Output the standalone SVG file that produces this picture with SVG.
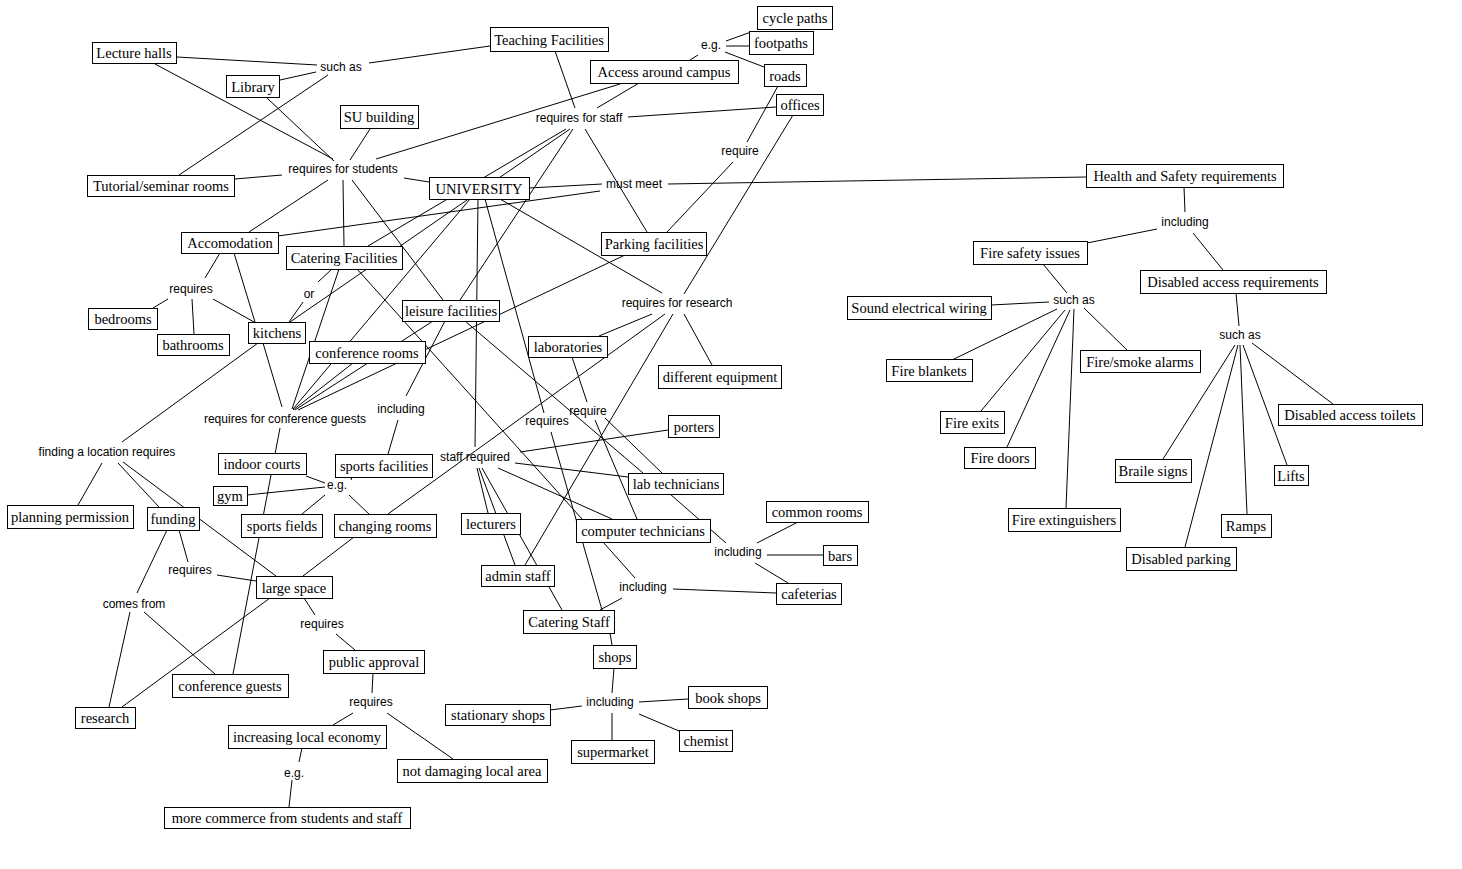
<svg xmlns="http://www.w3.org/2000/svg" width="1462" height="869" viewBox="0 0 1462 869">
<style>
.c line{stroke:#000;stroke-width:1;fill:none}
.n rect{fill:#fff;stroke:#000;stroke-width:1}
.n text{font-family:"Liberation Serif","Times New Roman",serif;font-size:14.5px;fill:#000;text-anchor:middle}
.l text{font-family:"Liberation Sans",Arial,sans-serif;font-size:12px;fill:#000;text-anchor:middle}
</style>
<rect x="0" y="0" width="1462" height="869" fill="#fff"/>
<g id="connectors" class="c">
<line x1="177" y1="57" x2="317" y2="65"/>
<line x1="280" y1="80" x2="316" y2="72"/>
<line x1="328" y1="75" x2="179" y2="175"/>
<line x1="369" y1="63" x2="490" y2="46"/>
<line x1="155" y1="64" x2="333" y2="159"/>
<line x1="267" y1="98" x2="334" y2="161"/>
<line x1="370" y1="129" x2="350" y2="160"/>
<line x1="282" y1="175" x2="235" y2="179"/>
<line x1="404" y1="178" x2="429" y2="182"/>
<line x1="620" y1="84" x2="376" y2="159"/>
<line x1="328" y1="180" x2="249" y2="232"/>
<line x1="343" y1="180" x2="344" y2="246"/>
<line x1="352" y1="180" x2="443" y2="300"/>
<line x1="726" y1="41" x2="751" y2="32"/>
<line x1="726" y1="46" x2="749" y2="46"/>
<line x1="725" y1="52" x2="764" y2="67"/>
<line x1="698" y1="55" x2="690" y2="60"/>
<line x1="555" y1="51" x2="575" y2="108"/>
<line x1="639" y1="83" x2="597" y2="108"/>
<line x1="628" y1="117" x2="776" y2="107"/>
<line x1="778" y1="86" x2="747" y2="142"/>
<line x1="733" y1="162" x2="667" y2="232"/>
<line x1="793" y1="115" x2="684" y2="294"/>
<line x1="585" y1="129" x2="647" y2="232"/>
<line x1="566" y1="129" x2="368" y2="246"/>
<line x1="570" y1="129" x2="290" y2="322"/>
<line x1="573" y1="129" x2="460" y2="300"/>
<line x1="529" y1="188" x2="602" y2="184"/>
<line x1="668" y1="184" x2="1086" y2="177"/>
<line x1="600" y1="191" x2="278" y2="236"/>
<line x1="470" y1="199" x2="293" y2="409"/>
<line x1="478" y1="199" x2="475" y2="447"/>
<line x1="485" y1="199" x2="544" y2="413"/>
<line x1="500" y1="199" x2="662" y2="293"/>
<line x1="220" y1="253" x2="205" y2="278"/>
<line x1="168" y1="299" x2="153" y2="308"/>
<line x1="192" y1="299" x2="194" y2="334"/>
<line x1="213" y1="299" x2="254" y2="322"/>
<line x1="234" y1="253" x2="255" y2="322"/>
<line x1="332" y1="269" x2="318" y2="282"/>
<line x1="303" y1="302" x2="289" y2="322"/>
<line x1="258" y1="343" x2="122" y2="442"/>
<line x1="263" y1="343" x2="282" y2="407"/>
<line x1="339" y1="269" x2="292" y2="409"/>
<line x1="357" y1="269" x2="582" y2="519"/>
<line x1="353" y1="363" x2="293" y2="410"/>
<line x1="433" y1="321" x2="295" y2="410"/>
<line x1="625" y1="255" x2="298" y2="410"/>
<line x1="280" y1="428" x2="233" y2="674"/>
<line x1="445" y1="321" x2="406" y2="396"/>
<line x1="398" y1="420" x2="388" y2="454"/>
<line x1="465" y1="321" x2="643" y2="473"/>
<line x1="652" y1="314" x2="599" y2="336"/>
<line x1="684" y1="314" x2="712" y2="365"/>
<line x1="665" y1="314" x2="388" y2="514"/>
<line x1="673" y1="314" x2="525" y2="565"/>
<line x1="572" y1="357" x2="587" y2="402"/>
<line x1="595" y1="420" x2="637" y2="519"/>
<line x1="605" y1="418" x2="662" y2="473"/>
<line x1="551" y1="432" x2="602" y2="610"/>
<line x1="520" y1="452" x2="668" y2="430"/>
<line x1="515" y1="463" x2="628" y2="477"/>
<line x1="498" y1="468" x2="612" y2="519"/>
<line x1="477" y1="468" x2="488" y2="513"/>
<line x1="479" y1="468" x2="515" y2="565"/>
<line x1="482" y1="468" x2="562" y2="610"/>
<line x1="670" y1="494" x2="726" y2="543"/>
<line x1="757" y1="543" x2="798" y2="522"/>
<line x1="767" y1="555" x2="823" y2="555"/>
<line x1="755" y1="563" x2="788" y2="583"/>
<line x1="603" y1="542" x2="635" y2="578"/>
<line x1="673" y1="589" x2="776" y2="593"/>
<line x1="622" y1="598" x2="600" y2="610"/>
<line x1="610" y1="633" x2="612" y2="645"/>
<line x1="614" y1="668" x2="612" y2="693"/>
<line x1="582" y1="706" x2="550" y2="710"/>
<line x1="639" y1="702" x2="688" y2="699"/>
<line x1="612" y1="713" x2="612" y2="740"/>
<line x1="639" y1="714" x2="679" y2="731"/>
<line x1="102" y1="463" x2="78" y2="505"/>
<line x1="118" y1="463" x2="159" y2="507"/>
<line x1="123" y1="462" x2="276" y2="576"/>
<line x1="179" y1="530" x2="188" y2="562"/>
<line x1="217" y1="575" x2="256" y2="581"/>
<line x1="167" y1="530" x2="137" y2="593"/>
<line x1="130" y1="612" x2="109" y2="707"/>
<line x1="144" y1="612" x2="215" y2="674"/>
<line x1="306" y1="476" x2="325" y2="483"/>
<line x1="325" y1="487" x2="247" y2="495"/>
<line x1="325" y1="495" x2="302" y2="514"/>
<line x1="349" y1="495" x2="369" y2="514"/>
<line x1="352" y1="477" x2="351" y2="480"/>
<line x1="354" y1="537" x2="303" y2="576"/>
<line x1="270" y1="598" x2="122" y2="707"/>
<line x1="304" y1="598" x2="315" y2="615"/>
<line x1="336" y1="634" x2="355" y2="650"/>
<line x1="373" y1="673" x2="372" y2="693"/>
<line x1="353" y1="713" x2="333" y2="725"/>
<line x1="387" y1="713" x2="453" y2="759"/>
<line x1="302" y1="748" x2="299" y2="762"/>
<line x1="292" y1="780" x2="289" y2="807"/>
<line x1="1184" y1="187" x2="1185" y2="212"/>
<line x1="1157" y1="229" x2="1087" y2="243"/>
<line x1="1193" y1="233" x2="1223" y2="270"/>
<line x1="1043" y1="264" x2="1067" y2="293"/>
<line x1="1049" y1="302" x2="991" y2="305"/>
<line x1="1057" y1="309" x2="954" y2="359"/>
<line x1="1065" y1="310" x2="981" y2="411"/>
<line x1="1070" y1="310" x2="1007" y2="447"/>
<line x1="1074" y1="309" x2="1066" y2="508"/>
<line x1="1084" y1="308" x2="1127" y2="350"/>
<line x1="1236" y1="293" x2="1239" y2="326"/>
<line x1="1235" y1="345" x2="1163" y2="459"/>
<line x1="1238" y1="345" x2="1185" y2="547"/>
<line x1="1240" y1="345" x2="1247" y2="514"/>
<line x1="1243" y1="345" x2="1287" y2="465"/>
<line x1="1252" y1="343" x2="1333" y2="404"/>
</g>
<g id="nodes" class="n">
<g id="n-lecture-halls"><rect x="92.5" y="42.5" width="84" height="21"/><text x="134" y="58">Lecture halls</text></g>
<g id="n-library"><rect x="226.5" y="75.5" width="53" height="22"/><text x="253" y="91.5">Library</text></g>
<g id="n-su-building"><rect x="340.5" y="105.5" width="78" height="23"/><text x="379" y="122">SU building</text></g>
<g id="n-tutorial"><rect x="87.5" y="175.5" width="147" height="21"/><text x="161" y="191">Tutorial/seminar rooms</text></g>
<g id="n-teaching"><rect x="490.5" y="27.5" width="118" height="24"/><text x="549" y="44.5">Teaching Facilities</text></g>
<g id="n-access"><rect x="590.5" y="60.5" width="148" height="23"/><text x="664" y="77">Access around campus</text></g>
<g id="n-cycle"><rect x="757.5" y="6.5" width="75" height="23"/><text x="795" y="23">cycle paths</text></g>
<g id="n-footpaths"><rect x="749.5" y="31.5" width="64" height="23"/><text x="781" y="48">footpaths</text></g>
<g id="n-roads"><rect x="764.5" y="64.5" width="42" height="22"/><text x="785" y="80.5">roads</text></g>
<g id="n-offices"><rect x="776.5" y="94.5" width="47" height="21"/><text x="800" y="110">offices</text></g>
<g id="n-university"><rect x="429.5" y="177.5" width="100" height="22"/><text x="479" y="193.5">UNIVERSITY</text></g>
<g id="n-accomodation"><rect x="181.5" y="232.5" width="97" height="21"/><text x="230" y="248">Accomodation</text></g>
<g id="n-catering-facilities"><rect x="286.5" y="246.5" width="116" height="23"/><text x="344" y="263">Catering Facilities</text></g>
<g id="n-bedrooms"><rect x="88.5" y="308.5" width="69" height="21"/><text x="123" y="324">bedrooms</text></g>
<g id="n-bathrooms"><rect x="157.5" y="334.5" width="72" height="21"/><text x="193" y="350">bathrooms</text></g>
<g id="n-kitchens"><rect x="248.5" y="322.5" width="57" height="21"/><text x="277" y="338">kitchens</text></g>
<g id="n-conference-rooms"><rect x="309.5" y="341.5" width="116" height="22"/><text x="367" y="357.5">conference rooms</text></g>
<g id="n-leisure"><rect x="402.5" y="300.5" width="97" height="21"/><text x="451" y="316">leisure facilities</text></g>
<g id="n-parking"><rect x="601.5" y="232.5" width="105" height="23"/><text x="654" y="249">Parking facilities</text></g>
<g id="n-laboratories"><rect x="528.5" y="336.5" width="79" height="21"/><text x="568" y="352">laboratories</text></g>
<g id="n-different-equipment"><rect x="658.5" y="365.5" width="123" height="23"/><text x="720" y="382">different equipment</text></g>
<g id="n-porters"><rect x="668.5" y="415.5" width="51" height="22"/><text x="694" y="431.5">porters</text></g>
<g id="n-planning"><rect x="7.5" y="505.5" width="126" height="23"/><text x="70" y="522">planning permission</text></g>
<g id="n-funding"><rect x="147.5" y="507.5" width="52" height="23"/><text x="173" y="524">funding</text></g>
<g id="n-indoor-courts"><rect x="218.5" y="453.5" width="88" height="21"/><text x="262" y="469">indoor courts</text></g>
<g id="n-sports-facilities"><rect x="335.5" y="454.5" width="97" height="23"/><text x="384" y="471">sports facilities</text></g>
<g id="n-gym"><rect x="213.5" y="486.5" width="34" height="19"/><text x="230" y="501">gym</text></g>
<g id="n-sports-fields"><rect x="241.5" y="514.5" width="81" height="23"/><text x="282" y="531">sports fields</text></g>
<g id="n-changing-rooms"><rect x="334.5" y="514.5" width="102" height="23"/><text x="385" y="531">changing rooms</text></g>
<g id="n-large-space"><rect x="256.5" y="576.5" width="76" height="22"/><text x="294" y="592.5">large space</text></g>
<g id="n-public-approval"><rect x="323.5" y="650.5" width="101" height="23"/><text x="374" y="667">public approval</text></g>
<g id="n-conference-guests"><rect x="172.5" y="674.5" width="116" height="23"/><text x="230" y="691">conference guests</text></g>
<g id="n-research"><rect x="75.5" y="707.5" width="60" height="21"/><text x="105" y="723">research</text></g>
<g id="n-increasing"><rect x="228.5" y="725.5" width="158" height="23"/><text x="307" y="742">increasing local economy</text></g>
<g id="n-not-damaging"><rect x="397.5" y="759.5" width="150" height="23"/><text x="472" y="776">not damaging local area</text></g>
<g id="n-more-commerce"><rect x="164.5" y="807.5" width="246" height="21"/><text x="287" y="823">more commerce from students and staff</text></g>
<g id="n-lecturers"><rect x="461.5" y="513.5" width="59" height="21"/><text x="491" y="529">lecturers</text></g>
<g id="n-admin-staff"><rect x="481.5" y="565.5" width="73" height="21"/><text x="518" y="581">admin staff</text></g>
<g id="n-catering-staff"><rect x="523.5" y="610.5" width="91" height="23"/><text x="569" y="627">Catering Staff</text></g>
<g id="n-computer-technicians"><rect x="576.5" y="519.5" width="134" height="23"/><text x="643" y="536">computer technicians</text></g>
<g id="n-lab-technicians"><rect x="628.5" y="473.5" width="95" height="21"/><text x="676" y="489">lab technicians</text></g>
<g id="n-common-rooms"><rect x="766.5" y="501.5" width="102" height="21"/><text x="817" y="517">common rooms</text></g>
<g id="n-bars"><rect x="823.5" y="545.5" width="34" height="20"/><text x="840" y="560.5">bars</text></g>
<g id="n-cafeterias"><rect x="776.5" y="583.5" width="65" height="21"/><text x="809" y="599">cafeterias</text></g>
<g id="n-shops"><rect x="593.5" y="645.5" width="43" height="23"/><text x="615" y="662">shops</text></g>
<g id="n-book-shops"><rect x="688.5" y="686.5" width="79" height="22"/><text x="728" y="702.5">book shops</text></g>
<g id="n-stationary-shops"><rect x="445.5" y="704.5" width="105" height="21"/><text x="498" y="720">stationary shops</text></g>
<g id="n-supermarket"><rect x="571.5" y="740.5" width="83" height="23"/><text x="613" y="757">supermarket</text></g>
<g id="n-chemist"><rect x="679.5" y="730.5" width="53" height="21"/><text x="706" y="746">chemist</text></g>
<g id="n-health"><rect x="1086.5" y="164.5" width="197" height="23"/><text x="1185" y="181">Health and Safety requirements</text></g>
<g id="n-fire-safety"><rect x="973.5" y="241.5" width="114" height="23"/><text x="1030" y="258">Fire safety issues</text></g>
<g id="n-disabled-access"><rect x="1140.5" y="270.5" width="186" height="23"/><text x="1233" y="287">Disabled access requirements</text></g>
<g id="n-sound-wiring"><rect x="847.5" y="296.5" width="144" height="23"/><text x="919" y="313">Sound electrical wiring</text></g>
<g id="n-fire-smoke"><rect x="1080.5" y="350.5" width="120" height="22"/><text x="1140" y="366.5">Fire/smoke alarms</text></g>
<g id="n-fire-blankets"><rect x="886.5" y="359.5" width="86" height="22"/><text x="929" y="375.5">Fire blankets</text></g>
<g id="n-fire-exits"><rect x="940.5" y="411.5" width="64" height="22"/><text x="972" y="427.5">Fire exits</text></g>
<g id="n-fire-doors"><rect x="964.5" y="447.5" width="71" height="21"/><text x="1000" y="463">Fire doors</text></g>
<g id="n-fire-extinguishers"><rect x="1008.5" y="508.5" width="112" height="23"/><text x="1064" y="525">Fire extinguishers</text></g>
<g id="n-braile"><rect x="1115.5" y="459.5" width="76" height="23"/><text x="1153" y="476">Braile signs</text></g>
<g id="n-disabled-parking"><rect x="1126.5" y="547.5" width="110" height="23"/><text x="1181" y="564">Disabled parking</text></g>
<g id="n-ramps"><rect x="1221.5" y="514.5" width="50" height="23"/><text x="1246" y="531">Ramps</text></g>
<g id="n-lifts"><rect x="1274.5" y="465.5" width="34" height="20"/><text x="1291" y="480.5">Lifts</text></g>
<g id="n-disabled-toilets"><rect x="1278.5" y="404.5" width="144" height="21"/><text x="1350" y="420">Disabled access toilets</text></g>
</g>
<g id="links" class="l">
<g id="l-such-as-1"><text x="341" y="71">such as</text></g>
<g id="l-rfs"><text x="343" y="173">requires for students</text></g>
<g id="l-eg-1"><text x="711" y="49">e.g.</text></g>
<g id="l-rfstaff"><text x="579" y="122">requires for staff</text></g>
<g id="l-require-1"><text x="740" y="155">require</text></g>
<g id="l-must-meet"><text x="634" y="188">must meet</text></g>
<g id="l-including-hs"><text x="1185" y="226">including</text></g>
<g id="l-such-as-fire"><text x="1074" y="304">such as</text></g>
<g id="l-such-as-dis"><text x="1240" y="339">such as</text></g>
<g id="l-requires-accom"><text x="191" y="293">requires</text></g>
<g id="l-or"><text x="309" y="298">or</text></g>
<g id="l-rfcg"><text x="285" y="423">requires for conference guests</text></g>
<g id="l-including-leisure"><text x="401" y="413">including</text></g>
<g id="l-rfr"><text x="677" y="307">requires for research</text></g>
<g id="l-require-lab"><text x="588" y="415">require</text></g>
<g id="l-requires-center"><text x="547" y="425">requires</text></g>
<g id="l-staff-required"><text x="475" y="461">staff required</text></g>
<g id="l-flr"><text x="107" y="456">finding a location requires</text></g>
<g id="l-eg-sports"><text x="337" y="489">e.g.</text></g>
<g id="l-requires-funding"><text x="190" y="574">requires</text></g>
<g id="l-comes-from"><text x="134" y="608">comes from</text></g>
<g id="l-requires-space"><text x="322" y="628">requires</text></g>
<g id="l-requires-public"><text x="371" y="706">requires</text></g>
<g id="l-eg-economy"><text x="294" y="777">e.g.</text></g>
<g id="l-including-ct"><text x="738" y="556">including</text></g>
<g id="l-including-cs"><text x="643" y="591">including</text></g>
<g id="l-including-shops"><text x="610" y="706">including</text></g>
</g>
</svg>
